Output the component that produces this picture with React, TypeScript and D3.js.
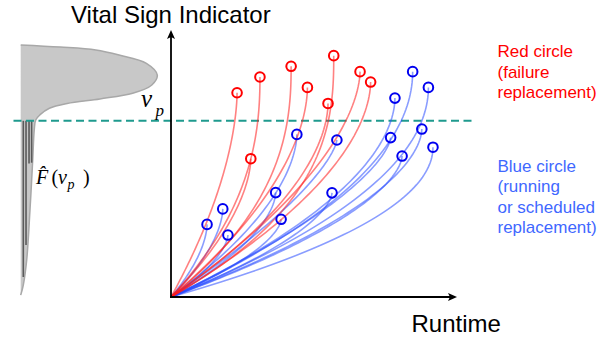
import React from "react";
import * as d3 from "d3";

// ---- data ----
// red circles: failure replacement (runtime, vital sign value, curve bend k)
const redRuntime = [23.1, 31.1, 42.0, 56.9, 47.7, 66.1, 69.8, 54.9, 27.9];
const redValue = [76.5, 82.4, 86.4, 90.4, 78.5, 84.4, 80.5, 72.5, 51.8];
const redBend = [1.7, 2.3, 2.4, 2.6, 1.8, 1.7, 1.8, 1.8, 1.7];

// blue circles: running or scheduled replacement
const blueRuntime = [12.6, 18.1, 19.9, 44.0, 36.6, 38.5, 58.0, 56.3, 84.5, 78.3, 90.0, 76.8, 87.7, 80.8, 91.6];
const blueValue = [27.2, 33.0, 23.2, 60.9, 39.1, 29.1, 58.8, 39.0, 84.4, 74.5, 78.5, 59.7, 62.9, 52.8, 56.1];
const blueBend = [1.7, 1.7, 1.6, 1.75, 1.7, 1.6, 1.4, 1.6, 2.0, 1.85, 2.0, 1.5, 1.75, 1.65, 2.0];

// failure threshold v_p
const thresholdValue = 66.0;

// empirical density of the vital sign (value, density)
const densityValue = [94.4, 93.6, 92.5, 90.6, 87.5, 83.1, 79.4, 76.3, 74.2, 72.5, 70.7, 68.2, 66.3, 62.5, 51.3, 32.6, 13.9, 4.5, 0.7];
const densityLevel = [0, 0.29, 0.55, 0.72, 0.92, 1.0, 0.96, 0.82, 0.58, 0.34, 0.21, 0.14, 0.11, 0.099, 0.088, 0.068, 0.044, 0.019, 0];

// hatching below threshold (density position, lower value)
const hatchLevel = [0.019, 0.039, 0.061, 0.08];
const hatchEnd = [7.5, 19.5, 50.0, 50.3];

const redLabel = ["Red circle", "(failure", "replacement)"];
const blueLabel = ["Blue circle", "(running", "or scheduled", "replacement)"];

const W = 611;
const H = 337;

const xScale = d3.scaleLinear().domain([0, 100]).range([171, 457]);
const yScale = d3.scaleLinear().domain([0, 100]).range([297, 30]);
const densityScale = d3.scaleLinear().domain([0, 1]).range([20.7, 157.3]);

type Pt = { t: number; v: number };

function pathPoints(T: number, V: number, k: number): Pt[] {
  const pts: Pt[] = [];
  const n = 60;
  for (let i = 0; i <= n; i++) {
    const u = i / n;
    pts.push({ t: T * (1 - Math.pow(1 - u, k)), v: V * u });
  }
  return pts;
}

const line = d3
  .line<Pt>()
  .x((d) => xScale(d.t))
  .y((d) => yScale(d.v));

const densityData = densityValue.map((v, i) => ({ v, d: densityLevel[i] }));
const densityArea = d3
  .area<{ v: number; d: number }>()
  .y((p) => yScale(p.v))
  .x0(densityScale(0))
  .x1((p) => densityScale(p.d))
  .curve(d3.curveCatmullRom);
const densityEdge = d3
  .line<{ v: number; d: number }>()
  .y((p) => yScale(p.v))
  .x((p) => densityScale(p.d))
  .curve(d3.curveCatmullRom);

const sans = "'Liberation Sans', Arial, sans-serif";
const serif = "'Liberation Serif', 'Times New Roman', serif";

export default function App() {
  const x0 = xScale(0);
  const y0 = yScale(0);
  const yTop = yScale(100);
  const xEnd = xScale(100);
  const yT = yScale(thresholdValue);

  return (
    <svg
      width={W}
      height={H}
      style={{ position: "absolute", left: 0, top: 0, background: "#fff" }}
    >
      {/* density */}
      <path d={densityArea(densityData) || ""} fill="#c8c8c8" stroke="none" />
      <path d={densityEdge(densityData) || ""} fill="none" stroke="#a8a8a8" strokeWidth={1.5} />
      {hatchLevel.map((h, i) => (
        <line
          key={"h" + i}
          x1={densityScale(h)}
          x2={densityScale(h)}
          y1={yT}
          y2={yScale(hatchEnd[i])}
          stroke="#5a5a5a"
          strokeWidth={1.6}
        />
      ))}

      {/* threshold */}
      <line
        x1={13.5}
        x2={475}
        y1={yT}
        y2={yT}
        stroke="#1f9a8e"
        strokeWidth={2}
        strokeDasharray="8,4.5"
      />

      {/* degradation paths */}
      {blueRuntime.map((t, i) => (
        <path
          key={"bl" + i}
          d={line(pathPoints(t, blueValue[i], blueBend[i])) || ""}
          fill="none"
          stroke="#2a4dff"
          strokeOpacity={0.55}
          strokeWidth={1.6}
        />
      ))}
      {redRuntime.map((t, i) => (
        <path
          key={"rl" + i}
          d={line(pathPoints(t, redValue[i], redBend[i])) || ""}
          fill="none"
          stroke="#ff1a1a"
          strokeOpacity={0.55}
          strokeWidth={1.6}
        />
      ))}

      {/* axes */}
      <line x1={x0} x2={x0} y1={y0 + 1} y2={yTop + 4} stroke="#000" strokeWidth={1.8} />
      <path d={`M${x0},${yTop} L${x0 - 4},${yTop + 9} L${x0},${yTop + 7} L${x0 + 4},${yTop + 9} Z`} fill="#000" />
      <line x1={x0 - 1} x2={xEnd - 4} y1={y0} y2={y0} stroke="#000" strokeWidth={1.8} />
      <path d={`M${xEnd},${y0} L${xEnd - 9},${y0 - 4} L${xEnd - 7},${y0} L${xEnd - 9},${y0 + 4} Z`} fill="#000" />

      {/* circles */}
      {redRuntime.map((t, i) => (
        <circle key={"rc" + i} cx={xScale(t)} cy={yScale(redValue[i])} r={4.8} fill="none" stroke="#ff0000" strokeWidth={2} />
      ))}
      {blueRuntime.map((t, i) => (
        <circle key={"bc" + i} cx={xScale(t)} cy={yScale(blueValue[i])} r={4.8} fill="none" stroke="#0000f0" strokeWidth={2} />
      ))}

      {/* titles */}
      <text x={71} y={23.3} fontFamily={sans} fontSize={24} fill="#000">
        Vital Sign Indicator
      </text>
      <text x={411.5} y={331.5} fontFamily={sans} fontSize={24} fill="#000">
        Runtime
      </text>

      {/* v_p label */}
      <text x={141} y={107.3} fontFamily={serif} fontStyle="italic" fontSize={25} fill="#000">
        v
      </text>
      <text x={155.5} y={115.5} fontFamily={serif} fontStyle="italic" fontSize={17} fill="#000">
        p
      </text>

      {/* F-hat label */}
      <text x={36} y={184} fontFamily={serif} fontSize={20} fill="#000">
        <tspan fontStyle="italic">{"F\u0302"}</tspan>
        <tspan x={51.5}>(</tspan>
        <tspan x={58} fontStyle="italic">v</tspan>
        <tspan x={67.5} dy={5} fontSize={14} fontStyle="italic">p</tspan>
        <tspan x={83} dy={-5}>)</tspan>
      </text>

      {/* legend */}
      {redLabel.map((s, i) => (
        <text key={"rt" + i} x={497.5} y={57.3 + i * 20.2} fontFamily={sans} fontSize={17} fill="#ff0000">
          {s}
        </text>
      ))}
      {blueLabel.map((s, i) => (
        <text key={"bt" + i} x={497.5} y={171.7 + i * 20.5} fontFamily={sans} fontSize={17} fill="#3f68ff">
          {s}
        </text>
      ))}
    </svg>
  );
}
